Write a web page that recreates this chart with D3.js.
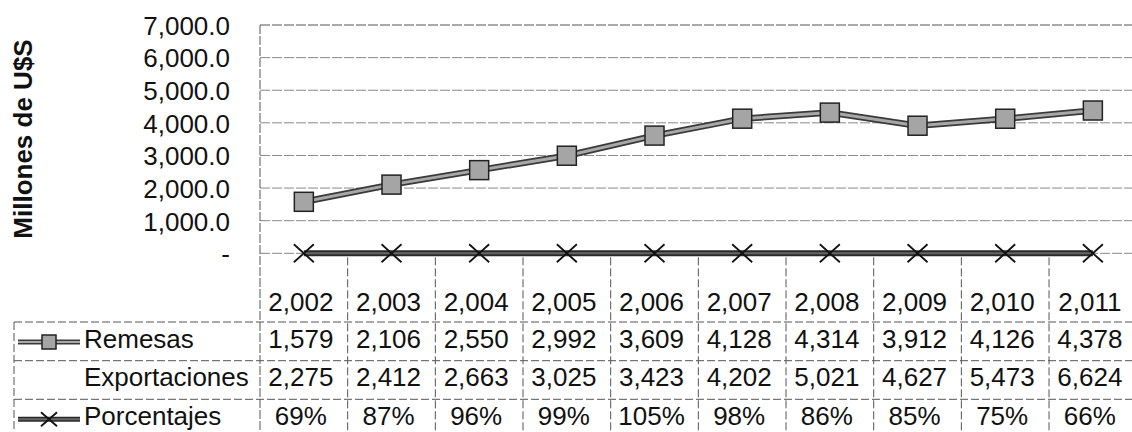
<!DOCTYPE html>
<html>
<head>
<meta charset="utf-8">
<script src="https://cdn.jsdelivr.net/npm/d3@7"></script>
<style>
  body { margin: 0; background: #fff; }
  svg { display: block; font-family: "Liberation Sans", Arial, sans-serif; }
</style>
</head>
<body>
<div id="chart"></div>
<script>
// data
const years = [2002, 2003, 2004, 2005, 2006, 2007, 2008, 2009, 2010, 2011];
const remesas = [1579, 2106, 2550, 2992, 3609, 4128, 4314, 3912, 4126, 4378];
const exportaciones = [2275, 2412, 2663, 3025, 3423, 4202, 5021, 4627, 5473, 6624];
const porcentajes = [0.69, 0.87, 0.96, 0.99, 1.05, 0.98, 0.86, 0.85, 0.75, 0.66];
const yTicks = [0, 1000, 2000, 3000, 4000, 5000, 6000, 7000];

const width = 1132, height = 432;
const plot = { left: 260, right: 1136.7, top: 25, zero: 253.3 };
const tableLeft = 14;
const rowTops = [322, 360.7, 399.3, 438];
const fontSize = 26;

const svg = d3.select('#chart')
  .append('svg')
  .attr('width', width)
  .attr('height', height);

const x = d3.scaleBand().domain(years).range([plot.left, plot.right]);
const y = d3.scaleLinear().domain([0, 7000]).range([plot.zero, plot.top]);
const cx = d => x(d) + x.bandwidth() / 2;

// gridlines
svg.append('g')
  .selectAll('line')
  .data(yTicks)
  .enter()
  .append('line')
  .attr('x1', plot.left)
  .attr('x2', plot.right)
  .attr('y1', d => y(d))
  .attr('y2', d => y(d))
  .attr('stroke', d => d === 7000 ? '#555' : '#888')
  .attr('stroke-width', 1)
  .attr('stroke-dasharray', '10,2');

// y axis labels
const yAxis = d3.axisLeft(y)
  .tickValues(yTicks)
  .tickSize(0)
  .tickPadding(30)
  .tickFormat(d => d === 0 ? '-' : d3.format(',.1f')(d));

const yAxisG = svg.append('g')
  .attr('transform', `translate(${plot.left},0)`)
  .call(yAxis);
yAxisG.select('.domain').remove();
yAxisG.selectAll('text')
  .attr('font-family', '"Liberation Sans", Arial, sans-serif')
  .attr('font-size', fontSize)
  .attr('fill', '#111')
  .attr('dy', '0.36em');

// y axis title
svg.append('text')
  .attr('transform', 'rotate(-90)')
  .attr('x', -139)
  .attr('y', 32)
  .attr('text-anchor', 'middle')
  .attr('font-size', fontSize)
  .attr('font-weight', 'bold')
  .attr('fill', '#111')
  .text('Millones de U$S');

// plot left border and column dividers
svg.append('line')
  .attr('x1', plot.left).attr('x2', plot.left)
  .attr('y1', plot.top).attr('y2', height)
  .attr('stroke', '#555')
  .attr('stroke-dasharray', '9,2');

svg.append('g')
  .selectAll('line')
  .data(years.slice(1))
  .enter()
  .append('line')
  .attr('x1', d => x(d))
  .attr('x2', d => x(d))
  .attr('y1', plot.zero + 4)
  .attr('y2', height)
  .attr('stroke', '#555')
  .attr('stroke-dasharray', '8,3');

// table row lines
svg.append('g')
  .selectAll('line')
  .data(rowTops.slice(0, 3))
  .enter()
  .append('line')
  .attr('x1', tableLeft)
  .attr('x2', plot.right)
  .attr('y1', d => d)
  .attr('y2', d => d)
  .attr('stroke', '#555')
  .attr('stroke-dasharray', '8,3');

svg.append('line')
  .attr('x1', tableLeft).attr('x2', tableLeft)
  .attr('y1', rowTops[0]).attr('y2', height)
  .attr('stroke', '#555')
  .attr('stroke-dasharray', '8,3');

// Porcentajes line
const lineP = d3.line()
  .x((d, i) => cx(years[i]))
  .y(d => y(d));

svg.append('path')
  .datum(porcentajes)
  .attr('d', lineP)
  .attr('fill', 'none')
  .attr('stroke', '#2a2a2a')
  .attr('stroke-width', 6);
svg.append('path')
  .datum(porcentajes)
  .attr('d', lineP)
  .attr('fill', 'none')
  .attr('stroke', '#666')
  .attr('stroke-width', 2);

// Remesas line
svg.append('path')
  .datum(remesas)
  .attr('d', lineP)
  .attr('fill', 'none')
  .attr('stroke', '#3a3a3a')
  .attr('stroke-width', 6.5);
svg.append('path')
  .datum(remesas)
  .attr('d', lineP)
  .attr('fill', 'none')
  .attr('stroke', '#a8a8a8')
  .attr('stroke-width', 3);

function drawSquare(g, px, py, s) {
  g.append('rect')
    .attr('x', px - s / 2)
    .attr('y', py - s / 2)
    .attr('width', s)
    .attr('height', s)
    .attr('fill', '#a5a5a5')
    .attr('stroke', '#222')
    .attr('stroke-width', 1.5);
}

function drawCross(g, px, py, w, h) {
  g.append('path')
    .attr('d', `M${px - w / 2},${py - h / 2}L${px + w / 2},${py + h / 2}M${px + w / 2},${py - h / 2}L${px - w / 2},${py + h / 2}`)
    .attr('stroke', '#111')
    .attr('stroke-width', 1.8)
    .attr('fill', 'none');
}

// markers
const markers = svg.append('g');
remesas.forEach((v, i) => drawSquare(markers, cx(years[i]), y(v), 19));
porcentajes.forEach((v, i) => drawCross(markers, cx(years[i]), y(v), 20, 18));

// header row (categories)
svg.append('g')
  .selectAll('text')
  .data(years)
  .enter()
  .append('text')
  .attr('x', d => cx(d) - 3)
  .attr('y', 311)
  .attr('text-anchor', 'middle')
  .attr('font-size', fontSize)
  .attr('fill', '#111')
  .text(d => d3.format(',')(d));

// table rows
const rows = [
  { name: 'Remesas', values: remesas, fmt: d3.format(','), key: 'square' },
  { name: 'Exportaciones', values: exportaciones, fmt: d3.format(','), key: null },
  { name: 'Porcentajes', values: porcentajes, fmt: d3.format('.0%'), key: 'cross' }
];

rows.forEach((row, r) => {
  const top = rowTops[r];
  const base = top + 25.5;
  const mid = top + 20;
  const g = svg.append('g');

  g.append('text')
    .attr('x', 84)
    .attr('y', base)
    .attr('font-size', fontSize)
    .attr('fill', '#111')
    .text(row.name);

  if (row.key) {
    g.append('line')
      .attr('x1', 18).attr('x2', 80)
      .attr('y1', mid).attr('y2', mid)
      .attr('stroke', row.key === 'square' ? '#3a3a3a' : '#2a2a2a')
      .attr('stroke-width', 5);
    g.append('line')
      .attr('x1', 18).attr('x2', 80)
      .attr('y1', mid).attr('y2', mid)
      .attr('stroke', row.key === 'square' ? '#a8a8a8' : '#666')
      .attr('stroke-width', 2);
    if (row.key === 'square') drawSquare(g, 49, mid, 14);
    else drawCross(g, 49, mid, 16, 14);
  }

  g.selectAll('.val')
    .data(row.values)
    .enter()
    .append('text')
    .attr('class', 'val')
    .attr('x', (d, i) => cx(years[i]) - 3)
    .attr('y', base)
    .attr('text-anchor', 'middle')
    .attr('font-size', fontSize)
    .attr('fill', '#111')
    .text(d => row.fmt(d));
});
</script>
</body>
</html>
